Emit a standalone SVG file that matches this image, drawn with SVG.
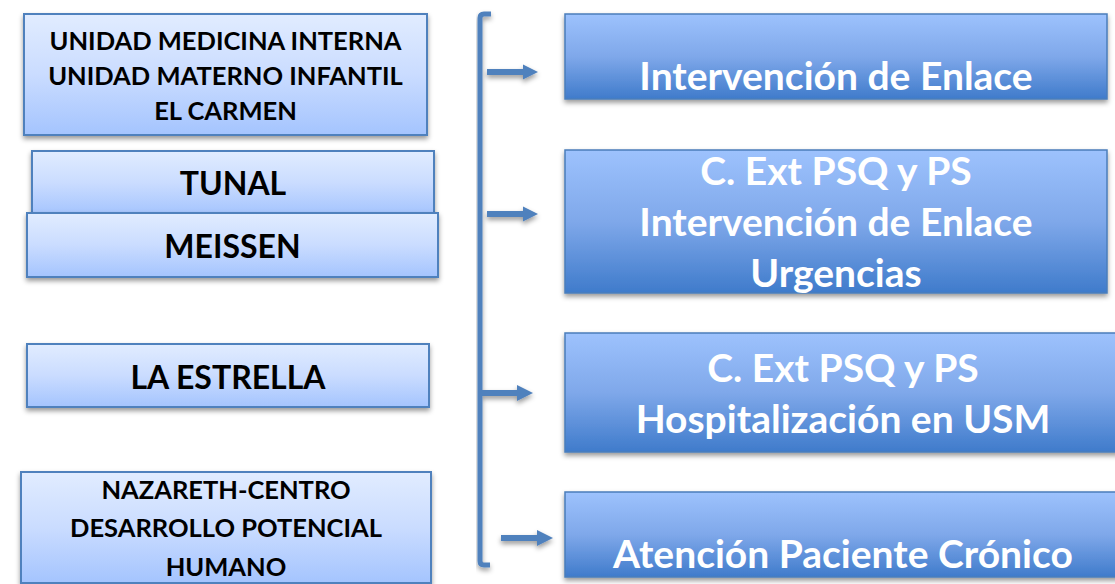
<svg xmlns="http://www.w3.org/2000/svg" width="1115" height="584" viewBox="0 0 1115 584">
<defs>
<linearGradient id="gl" x1="0" y1="0" x2="0" y2="1">
<stop offset="0" stop-color="#E1ECFF"/>
<stop offset="0.5" stop-color="#CADCFF"/>
<stop offset="1" stop-color="#A4C4FE"/>
</linearGradient>
<linearGradient id="gr" x1="0" y1="0" x2="0" y2="1">
<stop offset="0" stop-color="#9DC2FD"/>
<stop offset="0.5" stop-color="#7FA8EA"/>
<stop offset="1" stop-color="#3F7BCB"/>
</linearGradient>
<filter id="sh" x="-5%" y="-10%" width="110%" height="130%">
<feDropShadow dx="0" dy="3" stdDeviation="2.5" flood-color="#000" flood-opacity="0.4"/>
</filter>
</defs>
<style>
.lb{fill:url(#gl);stroke:#4F81BD;stroke-width:2;filter:url(#sh)}
.rb{fill:url(#gr);stroke:#4A7EBB;stroke-width:1.5;filter:url(#sh)}
.lt{font-family:Lato,"Liberation Sans",sans-serif;font-weight:bold;fill:#000;text-anchor:middle}
.rt{font-family:Lato,"Liberation Sans",sans-serif;font-weight:bold;fill:#fff;text-anchor:middle;font-size:39px}
.s{font-size:25.5px}
.b{font-size:32px}
.c{stroke:#4F81BD;fill:none}
.h{fill:#4F81BD}
</style>
<g id="n-medicina">
<rect class="lb" x="24" y="14" width="403" height="121"/>
<text class="lt s" x="225.5" y="50">UNIDAD MEDICINA INTERNA</text>
<text class="lt s" x="225.5" y="85">UNIDAD MATERNO INFANTIL</text>
<text class="lt s" x="225.5" y="120">EL CARMEN</text>
</g>
<g id="n-tunal">
<rect class="lb" x="32" y="151" width="402" height="64"/>
<text class="lt b" x="233" y="195">TUNAL</text>
</g>
<g id="n-meissen">
<rect class="lb" x="27" y="213" width="411" height="64"/>
<text class="lt b" x="232.5" y="258">MEISSEN</text>
</g>
<g id="n-estrella">
<rect class="lb" x="27" y="344" width="402" height="63"/>
<text class="lt b" x="228" y="389">LA ESTRELLA</text>
</g>
<g id="n-nazareth">
<rect class="lb" x="21" y="472" width="410" height="111"/>
<text class="lt s" x="226" y="499">NAZARETH-CENTRO</text>
<text class="lt s" x="226" y="537">DESARROLLO POTENCIAL</text>
<text class="lt s" x="226" y="576">HUMANO</text>
</g>
<g id="connectors" filter="url(#sh)">
<path class="c" stroke-width="5" d="M491,14 H484 Q480,14 480,18 V561 Q480,565 484,565 H490"/>
<line class="c" stroke-width="6" x1="487" y1="72" x2="524" y2="72"/>
<polygon class="h" points="523,64.5 538,72 523,79.5"/>
<line class="c" stroke-width="6" x1="487" y1="214" x2="524" y2="214"/>
<polygon class="h" points="523,206.5 538,214 523,221.5"/>
<line class="c" stroke-width="6" x1="480" y1="393" x2="518" y2="393"/>
<polygon class="h" points="517,385 533,393 517,401"/>
<line class="c" stroke-width="6" x1="501" y1="538" x2="538" y2="538"/>
<polygon class="h" points="537,530 553,538 537,546"/>
</g>
<g id="n-enlace">
<rect class="rb" x="565" y="14" width="542" height="85"/>
<text class="rt" x="836" y="90">Intervención de Enlace</text>
</g>
<g id="n-urgencias">
<rect class="rb" x="565" y="150" width="542" height="143"/>
<text class="rt" x="836" y="185">C. Ext PSQ y PS</text>
<text class="rt" x="836" y="236">Intervención de Enlace</text>
<text class="rt" x="836" y="287">Urgencias</text>
</g>
<g id="n-hospitalizacion">
<rect class="rb" x="565" y="333" width="556" height="119"/>
<text class="rt" x="843" y="382">C. Ext PSQ y PS</text>
<text class="rt" x="843" y="433">Hospitalización en USM</text>
</g>
<g id="n-cronico">
<rect class="rb" x="565" y="492" width="556" height="85"/>
<text class="rt" x="843" y="568">Atención Paciente Crónico</text>
</g>
</svg>
